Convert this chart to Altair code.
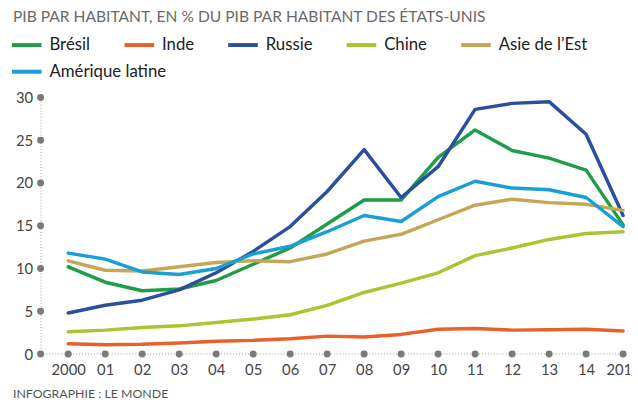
import json
import altair as alt
import pandas as pd

# ---- data ----
years = list(range(2000, 2016))
tick_labels = ["2000", "01", "02", "03", "04", "05", "06", "07", "08", "09",
               "10", "11", "12", "13", "14", "2015"]
y_ticks = [0, 5, 10, 15, 20, 25, 30]

series_names = ["Brésil", "Inde", "Russie", "Chine", "Asie de l’Est", "Amérique latine"]
series_colors = ["#1f9d48", "#e8612c", "#2a4f9e", "#a9c530", "#c6a655", "#189fd6"]

bresil = [10.2, 8.4, 7.4, 7.6, 8.6, 10.5, 12.4, 15.2, 18.0, 18.0, 23.0, 26.2, 23.8, 22.9, 21.5, 15.1]
inde = [1.2, 1.1, 1.15, 1.3, 1.5, 1.6, 1.8, 2.1, 2.0, 2.3, 2.9, 3.0, 2.8, 2.85, 2.9, 2.7]
russie = [4.8, 5.7, 6.3, 7.5, 9.5, 12.0, 14.9, 19.0, 23.9, 18.3, 21.9, 28.6, 29.3, 29.5, 25.7, 16.2]
chine = [2.6, 2.8, 3.1, 3.3, 3.7, 4.1, 4.6, 5.7, 7.2, 8.3, 9.5, 11.5, 12.4, 13.4, 14.1, 14.3]
asie = [10.9, 9.8, 9.7, 10.2, 10.7, 10.9, 10.8, 11.7, 13.2, 14.0, 15.7, 17.4, 18.1, 17.7, 17.5, 16.8]
amlat = [11.8, 11.1, 9.6, 9.3, 10.0, 11.7, 12.6, 14.3, 16.2, 15.5, 18.4, 20.2, 19.4, 19.2, 18.3, 14.9]

title_text = "PIB PAR HABITANT, EN % DU PIB PAR HABITANT DES ÉTATS-UNIS"
source_text = "INFOGRAPHIE : LE MONDE"

FONT = "Lato"
x_min, x_max = 1999.253, 2015.187

# ---- tables ----
rows = []
for name, vals in zip(series_names, [bresil, inde, russie, chine, asie, amlat]):
    for yr, v in zip(years, vals):
        rows.append({"year": yr, "value": v, "serie": name})
df = pd.DataFrame(rows)
df_row1 = df[df["serie"].isin(series_names[:5])]
df_row2 = df[df["serie"].isin(series_names[5:])]

xdots = pd.DataFrame({"year": years, "value": [0] * len(years)})
ydots = pd.DataFrame({"year": [x_min] * len(y_ticks), "value": y_ticks})
base_rule = pd.DataFrame({"year": [x_min], "year2": [years[-1]], "value": [0]})

label_expr = json.dumps(tick_labels) + "[datum.value - 2000]"

x_scale = alt.Scale(domain=[x_min, x_max], nice=False, zero=False)
y_scale = alt.Scale(domain=[0, 30], nice=False, zero=True)

x_axis = alt.Axis(values=years, labelExpr=label_expr, title=None, grid=False,
                  ticks=False, domain=False, labelPadding=9, labelFlush=False,
                  labelOverlap=False, labelBound=False)
y_axis = alt.Axis(values=y_ticks, title=None, grid=False, ticks=False,
                  domainDash=[1, 2], domainColor="#9a9a9a", domainWidth=1,
                  labelPadding=8, labelOverlap=False)


def X(field="year:Q"):
    return alt.X(field, scale=x_scale, axis=x_axis)


def Y(field="value:Q"):
    return alt.Y(field, scale=y_scale, axis=y_axis)


legend_common = dict(orient="none", direction="horizontal", gridAlign="each",
                     symbolType="stroke", symbolSize=900, symbolStrokeWidth=4,
                     labelFont=FONT, labelFontSize=17, labelColor="#222222",
                     labelOffset=6, columnPadding=26, title=None, labelLimit=0)

line_style = dict(strokeWidth=3.5, strokeCap="round", strokeJoin="round")

lines_row1 = alt.Chart(df_row1).mark_line(**line_style).encode(
    x=X(), y=Y(),
    color=alt.Color("serie:N",
                    scale=alt.Scale(domain=series_names[:5], range=series_colors[:5]),
                    legend=alt.Legend(legendX=-31, legendY=-70, columns=5, **legend_common)),
    detail="serie:N",
)

lines_row2 = alt.Chart(df_row2).mark_line(**line_style).encode(
    x=X(), y=Y(),
    stroke=alt.Stroke("serie:N",
                      scale=alt.Scale(domain=series_names[5:], range=series_colors[5:]),
                      legend=alt.Legend(legendX=-31, legendY=-43, columns=1, **legend_common)),
)

rule = alt.Chart(base_rule).mark_rule(strokeDash=[1, 2], color="#9a9a9a", strokeWidth=1).encode(
    x=X(), x2="year2:Q", y=Y()
)

dots_x = alt.Chart(xdots).mark_point(filled=True, size=50, color="#7a7a7a", opacity=1).encode(
    x=X(), y=Y()
)
dots_y = alt.Chart(ydots).mark_point(filled=True, size=50, color="#7a7a7a", opacity=1).encode(
    x=X(), y=Y()
)

title = alt.Chart(alt.Data(values=[{"t": title_text}])).mark_text(
    align="left", baseline="middle", font=FONT, fontSize=15.8, color="#6a6a6a"
).encode(x=alt.value(-28), y=alt.value(-81), text="t:N")

source = alt.Chart(alt.Data(values=[{"t": source_text}])).mark_text(
    align="left", baseline="middle", font=FONT, fontSize=12.5, color="#555555"
).encode(x=alt.value(-28), y=alt.value(300), text="t:N")

chart = alt.layer(lines_row1, rule, dots_x, dots_y, lines_row2, title, source).properties(
    width=597, height=260,
    padding={"left": 33, "top": 88, "right": 0, "bottom": 46},
    autosize=alt.AutoSizeParams(type="none"),
).configure_view(stroke=None).configure_axis(
    labelFont=FONT, labelFontSize=15, labelColor="#444444"
).configure_axisX(labelOverlap=False)

chart.save("out.html", embed_options={"renderer": "svg", "actions": False})
